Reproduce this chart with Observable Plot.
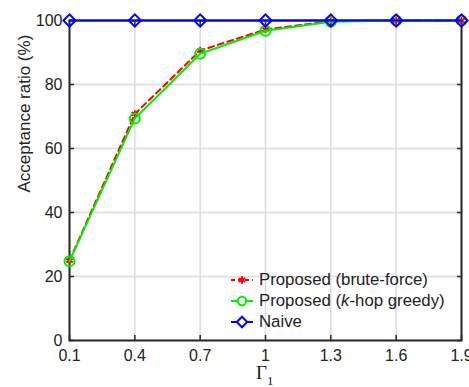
<!DOCTYPE html>
<html>
<head>
<meta charset="utf-8">
<script src="https://cdn.jsdelivr.net/npm/d3@7"></script>
<script src="https://cdn.jsdelivr.net/npm/@observablehq/plot@0.6"></script>
<style>
  html, body { margin: 0; padding: 0; background: #fff; }
  #wrap { position: relative; width: 469px; height: 387px; overflow: hidden; font-family: "Liberation Sans", Arial, Helvetica, sans-serif; }
  #legend { position: absolute; left: 230px; top: 269px; font-size: 16.8px; color: #222; }
  .row { display: flex; align-items: center; height: 21px; }
  .row svg { margin-right: 5px; }
  #xlabel { position: absolute; left: 256px; top: 363px; font-family: "Liberation Serif", "Times New Roman", serif; font-size: 19px; color: #222; line-height: 19px; }
  #xlabel sub { font-size: 13px; position: relative; top: 1px; }
</style>
</head>
<body>
<div id="wrap">
  <div id="chart"></div>
  <div id="legend"></div>
  <div id="xlabel">Γ<sub>1</sub></div>
</div>
<script>
const gamma = [0.1, 0.4, 0.7, 1.0, 1.3, 1.6, 1.9];
const bruteForce = [25, 70.8, 90.6, 97.2, 99.8, 100, 100];
const greedy = [24.8, 69.4, 89.6, 96.8, 99.6, 100, 100];
const naive = [100, 100, 100, 100, 100, 100, 100];
const xTicks = [0.1, 0.4, 0.7, 1, 1.3, 1.6, 1.9];
const yTicks = [0, 20, 40, 60, 80, 100];
const seriesNames = ["Proposed (brute-force)", "Proposed (k-hop greedy)", "Naive"];

const rows = (vals) => gamma.map((g, i) => ({x: g, y: vals[i]}));
const bf = rows(bruteForce), gr = rows(greedy), nv = rows(naive);
const axisColor = "#262626";
const blank = () => "";

const chart = Plot.plot({
  width: 469,
  height: 387,
  marginLeft: 69,
  marginRight: 8,
  marginTop: 20,
  marginBottom: 47,
  style: {fontFamily: '"Liberation Sans", Arial, Helvetica, sans-serif', fontSize: "16px", color: axisColor, background: "#fff"},
  x: {domain: [0.1, 1.9]},
  y: {domain: [0, 100]},
  marks: [
    Plot.gridX(xTicks, {stroke: "#dcdcdc", strokeOpacity: 1, strokeWidth: 1.5}),
    Plot.gridY(yTicks, {stroke: "#dcdcdc", strokeOpacity: 1, strokeWidth: 1.5}),
    Plot.axisX(xTicks, {anchor: "bottom", tickSize: -5, tickPadding: 14, label: null, tickFormat: d => String(d), stroke: axisColor, strokeWidth: 1.5, fill: "#222"}),
    Plot.axisX(xTicks, {anchor: "top", tickSize: -5, label: null, tickFormat: blank, stroke: axisColor, strokeWidth: 1.5}),
    Plot.axisY(yTicks, {anchor: "left", tickSize: -5, tickPadding: 12, label: null, stroke: axisColor, strokeWidth: 1.5, fill: "#222"}),
    Plot.axisY(yTicks, {anchor: "right", tickSize: -5, label: null, tickFormat: blank, stroke: axisColor, strokeWidth: 1.5}),
    Plot.frame({stroke: axisColor, strokeWidth: 2}),
    Plot.text(["Acceptance ratio (%)"], {frameAnchor: "left", dx: -45, dy: 12, rotate: -90, fontSize: 17, fill: "#222"}),
    Plot.line(bf, {x: "x", y: "y", stroke: "#ff0000", strokeWidth: 2, strokeDasharray: "6,4"}),
    Plot.dot(bf, {x: "x", y: "y", symbol: "asterisk", r: 3.5, stroke: "#ff0000", strokeWidth: 1.8}),
    Plot.line(gr, {x: "x", y: "y", stroke: "#00ee00", strokeWidth: 2}),
    Plot.dot(gr, {x: "x", y: "y", symbol: "circle", r: 5, stroke: "#00ee00", strokeWidth: 2, fill: "none"}),
    Plot.line(nv, {x: "x", y: "y", stroke: "#0000ff", strokeWidth: 2}),
    Plot.dot(nv, {x: "x", y: "y", symbol: "diamond2", r: 5.5, stroke: "#0000ff", strokeWidth: 2, fill: "none"})
  ]
});
document.getElementById("chart").appendChild(chart);

// Legend
const legendSpec = [
  {name: seriesNames[0], color: "#ff0000", dash: "4,3", sym: "asterisk"},
  {name: seriesNames[1], color: "#00ee00", dash: null, sym: "circle"},
  {name: seriesNames[2], color: "#0000ff", dash: null, sym: "diamond"}
];
const legend = document.getElementById("legend");
legendSpec.forEach(s => {
  const row = document.createElement("div");
  row.className = "row";
  const svg = d3.create("svg").attr("width", 24).attr("height", 14);
  svg.append("line").attr("x1", 1).attr("x2", 23).attr("y1", 7).attr("y2", 7)
    .attr("stroke", s.color).attr("stroke-width", 2).attr("stroke-dasharray", s.dash);
  const symbol = s.sym === "asterisk" ? d3.symbolAsterisk : s.sym === "circle" ? d3.symbolCircle : d3.symbolDiamond2;
  const size = s.sym === "asterisk" ? 40 : s.sym === "circle" ? 55 : 70;
  svg.append("path").attr("d", d3.symbol(symbol, size)()).attr("transform", "translate(12,7)")
    .attr("stroke", s.color).attr("stroke-width", 2).attr("fill", "#fff");
  row.appendChild(svg.node());
  const label = document.createElement("span");
  if (s.name.includes("k-hop")) {
    label.innerHTML = "Proposed (<i>k</i>-hop greedy)";
  } else {
    label.textContent = s.name;
  }
  row.appendChild(label);
  legend.appendChild(row);
});
</script>
</body>
</html>
